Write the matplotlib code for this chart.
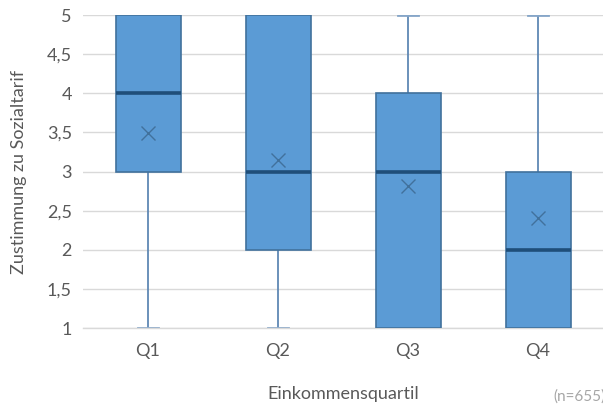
import matplotlib
matplotlib.use("Agg")
import matplotlib.pyplot as plt

categories = ["Q1", "Q2", "Q3", "Q4"]
whisker_low = [1, 1, 1, 1]
q1_vals = [3, 2, 1, 1]
medians = [4, 3, 3, 2]
q3_vals = [5, 5, 4, 3]
whisker_high = [5, 5, 5, 5]
means = [3.49, 3.15, 2.82, 2.40]
yticks = [1, 1.5, 2, 2.5, 3, 3.5, 4, 4.5, 5]
ytick_labels = ["1", "1,5", "2", "2,5", "3", "3,5", "4", "4,5", "5"]

plt.rcParams['font.family'] = ['Lato', 'DejaVu Sans']

fig = plt.figure(figsize=(6.03, 4.11), dpi=100)
ax = fig.add_axes([83/603, 1-328/411, 520/603, (328-15)/411])

stats = []
for i, c in enumerate(categories):
    stats.append(dict(label=c, whislo=whisker_low[i], q1=q1_vals[i], med=medians[i],
                      q3=q3_vals[i], whishi=whisker_high[i], mean=means[i], fliers=[]))

pos = list(range(len(categories)))
ax.bxp(stats, positions=pos, widths=0.5, patch_artist=True, showmeans=True,
       showfliers=False,
       boxprops=dict(facecolor="#5B9BD5", edgecolor="#41719C", linewidth=1.2, zorder=3),
       medianprops=dict(color="#1F4E79", linewidth=2.6, zorder=4),
       whiskerprops=dict(color="#5F88B4", linewidth=1.3, zorder=2),
       capprops=dict(color="#86A6C8", linewidth=2.0, zorder=2),
       capwidths=0.15,
       meanprops=dict(marker="x", markeredgecolor="#41719C", markersize=10,
                      markeredgewidth=1.0, zorder=5))

ax.set_xlim(-0.5, len(categories) - 0.5)
ax.set_ylim(1, 5)
ax.set_yticks(yticks)
ax.set_yticklabels(ytick_labels)
ax.set_xticks(pos)
ax.set_xticklabels(categories)
ax.yaxis.grid(True, color="#D9D9D9", linewidth=1.0, zorder=0)
ax.set_axisbelow(True)
for s in ["top", "right", "left"]:
    ax.spines[s].set_visible(False)
ax.spines["bottom"].set_color("#D9D9D9")
ax.spines["bottom"].set_linewidth(1.0)
ax.tick_params(axis="both", length=0, colors="#595959", labelsize=13)
ax.tick_params(axis="x", pad=11)
ax.tick_params(axis="y", pad=8)
ax.set_ylabel("Zustimmung zu Sozialtarif", color="#595959", fontsize=13)
ax.set_xlabel("Einkommensquartil", color="#595959", fontsize=13)
ax.yaxis.set_label_coords(-0.108, 0.5)
ax.xaxis.set_label_coords(0.5, -0.185)
fig.text(553/603, 1-397/411, "(n=655)", color="#A6A6A6", fontsize=11, va="center", ha="left")

fig.savefig("out.png", dpi=100)
